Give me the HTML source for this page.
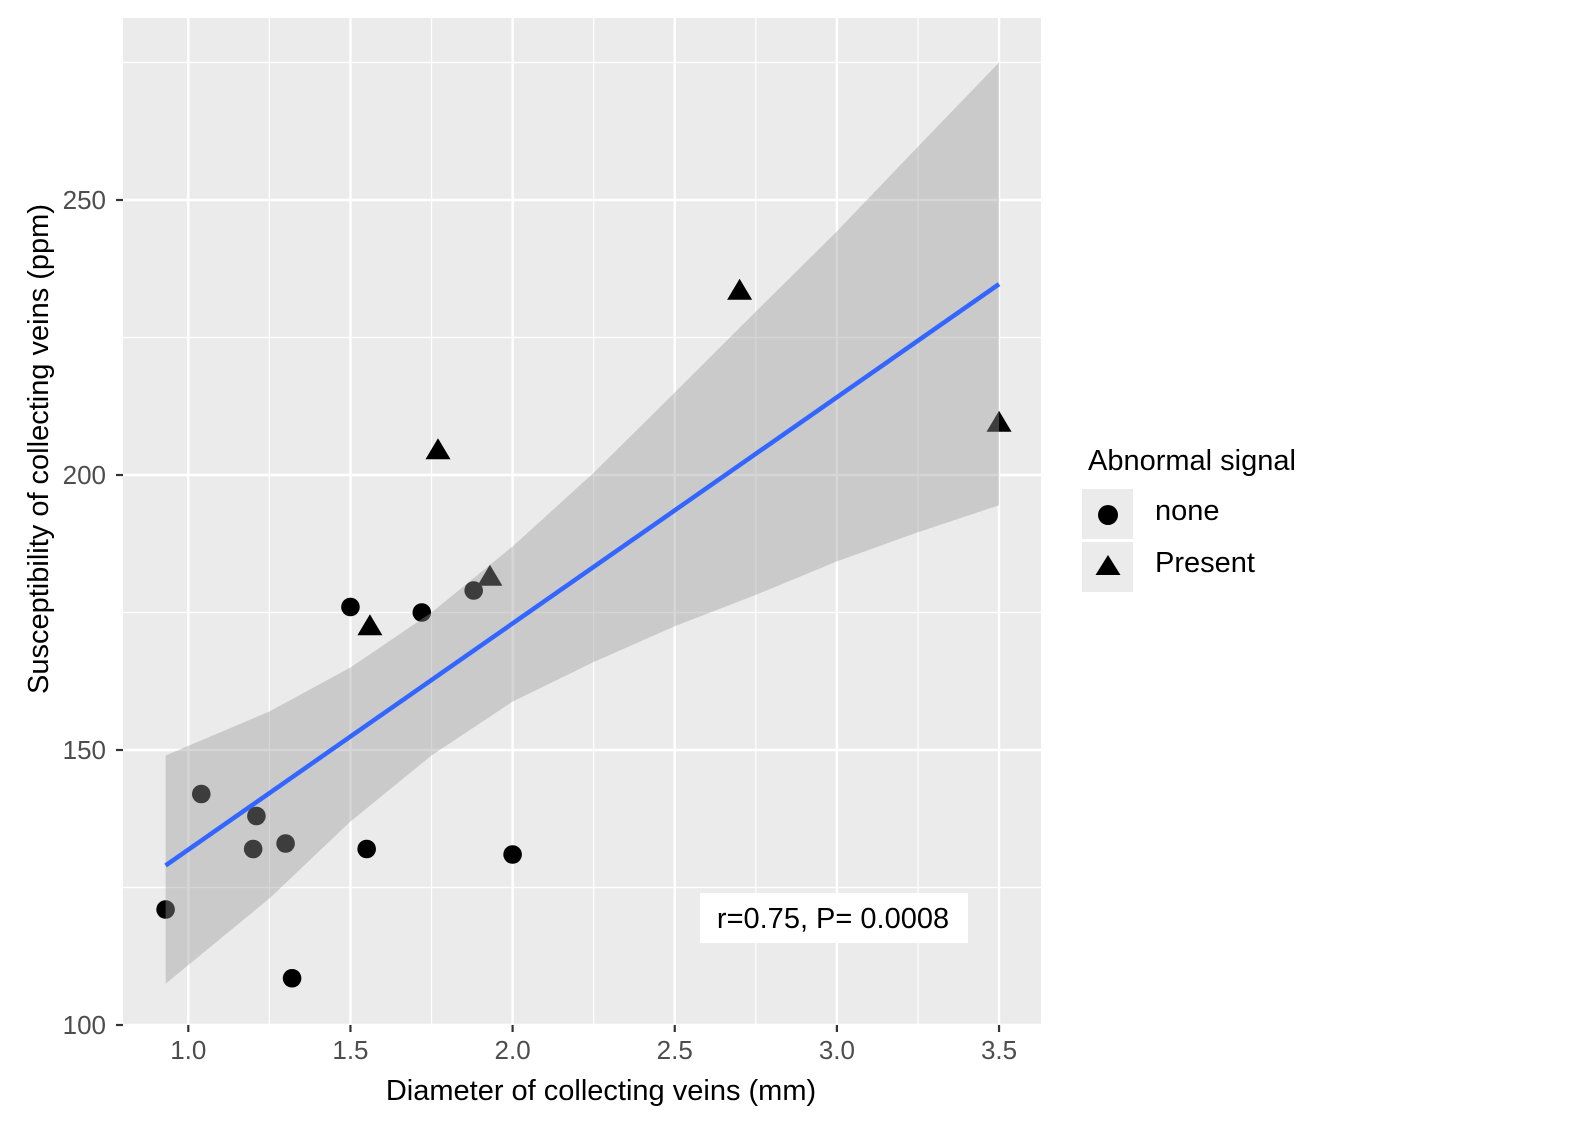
<!DOCTYPE html>
<html><head><meta charset="utf-8"><style>
body{margin:0;background:#fff;}
svg{font-family:"Liberation Sans",sans-serif;}
</style></head><body>
<svg id="chart" width="1575" height="1130" xmlns="http://www.w3.org/2000/svg">
<rect x="123" y="18" width="918" height="1007" fill="#ebebeb"/>
<g id="grid"></g><g id="pts"></g><g id="band"></g><g id="line"></g><g id="axes"></g>
<g>
<rect x="700" y="893" width="268" height="50" fill="#fff"/>
<text x="833" y="928" font-size="29" text-anchor="middle">r=0.75, P= 0.0008</text>
</g>
<text x="601" y="1100" font-size="29" text-anchor="middle">Diameter of collecting veins (mm)</text>
<text transform="translate(48,449) rotate(-90)" font-size="29" text-anchor="middle">Susceptibility of collecting veins (ppm)</text>
<g>
<text x="1088" y="470" font-size="29">Abnormal signal</text>
<rect x="1082" y="489" width="51" height="50" fill="#ebebeb"/>
<rect x="1082" y="542" width="51" height="50" fill="#ebebeb"/>
<circle cx="1108" cy="515" r="10" fill="#000"/>
<polygon points="1108,555 1120.5,575 1095.5,575" fill="#000"/>
<text x="1155" y="520" font-size="29">none</text>
<text x="1155" y="572" font-size="29">Present</text>
</g>
</svg>
<script>
const noneX=[0.93,1.04,1.20,1.21,1.30,1.32,1.50,1.55,1.72,1.88,2.00];
const noneY=[121,142,132,138,133,108.5,176,132,175,179,131];
const presX=[1.56,1.77,1.93,2.70,3.50];
const presY=[172.5,204.5,181.5,233.5,209.5];
const lineX=[0.93,3.5];
const lineY=[129,234.7];
const bandX=[0.93,1.25,1.5,1.75,2.0,2.25,2.5,2.75,3.0,3.25,3.5];
const bandHi=[149,157,165,175,187,200.4,215,229.7,244.3,259.7,275];
const bandLo=[107.5,123,137,149,158.8,166,172.5,178.2,184.3,189.6,194.5];
const xTicks=[1.0,1.5,2.0,2.5,3.0,3.5];
const xTickLabels=["1.0","1.5","2.0","2.5","3.0","3.5"];
const yTicks=[100,150,200,250];
const yTickLabels=["100","150","200","250"];
const xMinor=[1.25,1.75,2.25,2.75,3.25];
const yMinor=[125,175,225,275];
const NS="http://www.w3.org/2000/svg";
const X=v=>188.3+(v-1)*324.3;
const Y=v=>1025-(v-100)*5.5;
function mk(p,t,a){const e=document.createElementNS(NS,t);for(const k in a)e.setAttribute(k,a[k]);document.getElementById(p).appendChild(e);return e;}
xMinor.forEach(v=>{const e=mk('grid','line',{x1:X(v),x2:X(v),y1:18,y2:1025,stroke:'#fff','stroke-width':1.2});

});
yMinor.forEach(v=>{const e=mk('grid','line',{x1:123,x2:1041,y1:Y(v),y2:Y(v),stroke:'#fff','stroke-width':1.2});

});
xTicks.forEach((v,i)=>{const e=mk('grid','line',{x1:X(v),x2:X(v),y1:18,y2:1025,stroke:'#fff','stroke-width':2.4});


const t=mk('axes','line',{x1:X(v),x2:X(v),y1:1025,y2:1032,stroke:'#333','stroke-width':2.2});


const l=mk('axes','text',{x:X(v),y:1059,'font-size':26,fill:'#4d4d4d','text-anchor':'middle'});l.textContent=xTickLabels[i];

});
yTicks.forEach((v,i)=>{const e=mk('grid','line',{x1:123,x2:1041,y1:Y(v),y2:Y(v),stroke:'#fff','stroke-width':2.4});


const t=mk('axes','line',{x1:116,x2:123,y1:Y(v),y2:Y(v),stroke:'#333','stroke-width':2.2});


const l=mk('axes','text',{x:106,y:Y(v)+9,'font-size':26,fill:'#4d4d4d','text-anchor':'end'});l.textContent=yTickLabels[i];

});
noneX.forEach((v,i)=>{const c=mk('pts','circle',{cx:X(v),cy:Y(noneY[i]),r:9.3,fill:'#000'});

});
presX.forEach((v,i)=>{const x=X(v),y=Y(presY[i]);const p=mk('pts','polygon',{points:`${x},${y-12} ${x+12.5},${y+9} ${x-12.5},${y+9}`,fill:'#000'});

});
let d='M'+bandX.map((v,i)=>X(v)+','+Y(bandHi[i])).join(' L');
d+=' L'+bandX.slice().reverse().map((v,i)=>X(v)+','+Y(bandLo[bandX.length-1-i])).join(' L')+' Z';
const b=mk('band','path',{d:d,fill:'#999','fill-opacity':0.4});


const ln=mk('line','line',{x1:X(lineX[0]),y1:Y(lineY[0]),x2:X(lineX[1]),y2:Y(lineY[1]),stroke:'#3366ff','stroke-width':4.5});


</script>
</body></html>
